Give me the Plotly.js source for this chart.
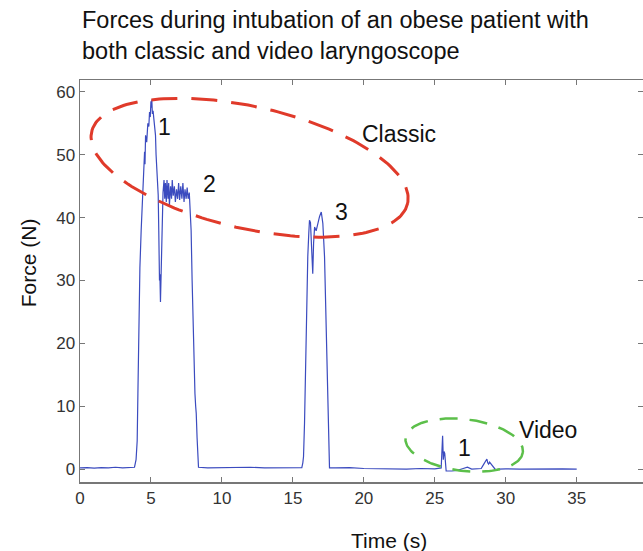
<!DOCTYPE html>
<html>
<head>
<meta charset="utf-8">
<script src="https://cdn.plot.ly/plotly-3.0.1.min.js"></script>
<style>html,body{margin:0;padding:0;background:#fff;}#chart{width:643px;height:551px;}</style>
</head>
<body>
<div id="chart"></div>
<script>
// ---- data ----
const timeS = [
  0, 0.5, 1, 1.5, 2, 2.5, 3, 3.5, 3.84,
  3.95, 4.0, 4.03, 4.08, 4.15, 4.22, 4.31, 4.4, 4.47, 4.5,
  4.55, 4.58, 4.62, 4.7, 4.78, 4.85, 4.9, 4.95, 5.0, 5.04,
  5.06, 5.1, 5.15, 5.2, 5.26, 5.32, 5.36, 5.41, 5.46, 5.51,
  5.55, 5.58, 5.6, 5.63, 5.67, 5.71, 5.75, 5.79, 5.85, 5.92,
  5.97, 6.02, 6.08, 6.13, 6.2, 6.25, 6.3, 6.38, 6.45, 6.5,
  6.57, 6.65, 6.72, 6.8, 6.88, 6.95, 7.02, 7.1, 7.18, 7.25,
  7.33, 7.4, 7.48, 7.55, 7.62, 7.7, 7.76, 7.83, 7.9, 8.0,
  8.1, 8.15, 8.19, 8.25, 8.3, 8.35,
  9, 10, 11, 12, 13, 14, 15, 15.63,
  15.7, 15.75, 15.82, 15.88, 15.94, 16.05, 16.12, 16.17, 16.24, 16.3,
  16.35, 16.4, 16.46, 16.53, 16.64, 16.76, 16.88, 17.0, 17.11, 17.23,
  17.32, 17.4, 17.5, 17.58,
  18, 19, 20, 21, 22, 23, 24, 25, 25.45,
  25.5, 25.55, 25.6, 25.65, 25.7, 25.75, 25.8, 26.2, 26.6, 27.0,
  27.3, 27.6, 28.0, 28.27, 28.4, 28.5, 28.6, 28.67, 28.73, 28.79,
  28.86, 28.93, 29.0, 29.09, 29.2, 29.28, 29.5, 30, 31, 32,
  33, 34, 35
];
const forceN = [
  0.2, 0.25, 0.15, 0.25, 0.2, 0.3, 0.2, 0.25, 0.3,
  1.5, 3.5, 4.5, 12, 24.8, 32, 38, 43, 45.2, 49,
  50.5, 48.5, 53.1, 52, 55, 54.5, 56.8, 56, 58.5, 57.5,
  58.8, 56.5, 57, 55.8, 54, 53.1, 50, 47.8, 45, 43.6,
  38, 32, 30, 31, 26.6, 31, 36, 40, 44, 46,
  43, 45.5, 42.5, 46, 43, 45.5, 42, 45, 43, 46,
  43.5, 45, 42.5, 44.5, 43, 45.5, 42.8, 45, 43, 45.5,
  42.5, 44.5, 43, 44.8, 43, 44, 42, 38, 30, 19.4,
  12, 10, 8.9, 5, 2, 0.3,
  0.2, 0.25, 0.2, 0.3, 0.2, 0.25, 0.2, 0.25,
  1, 2, 7.3, 15, 23.2, 33.8, 37.5, 39.6, 39.2, 35,
  32, 31.1, 36, 38.5, 37.9, 39.1, 40.2, 40.9, 39.1, 33.8,
  26, 17.9, 8, 0.2,
  0.2, 0.25, 0.1, 0.05, 0.1, 0, 0.1, 0.05, 0.2,
  3, 5.3, 1.5, 2.8, 2.5, 0.3, -0.3, -0.3, -0.2, 0.1,
  0.3, 0.0, 0.1, 0.1, 0.6, 0.9, 1.2, 1.6, 1.0, 0.8,
  1.1, 0.9, 0.6, 0.4, 0.1, -0.1, 0, 0.05, 0, 0.05,
  0, 0.05, 0
];
const xTicks = [0, 5, 10, 15, 20, 25, 30, 35];
const yTicks = [0, 10, 20, 30, 40, 50, 60];
const labelText = ['1', '2', '3', 'Classic', '1', 'Video'];
const labelX = [5.96, 9.13, 18.43, 22.5, 27.1, 33.0];
const labelY = [54.4, 45.3, 40.9, 53.3, 3.3, 6.2];
const titleLines = ['Forces during intubation of an obese patient with',
                    'both classic and video laryngoscope'];

// ---- highlight ellipses (screen-shaped, converted via axis scale) ----
const X_RANGE = [0, 39.67], Y_RANGE = [-2.05, 61.9];
const PLOT_W = 563, PLOT_H = 402;
const pxX = PLOT_W / (X_RANGE[1] - X_RANGE[0]);
const pxY = PLOT_H / (Y_RANGE[1] - Y_RANGE[0]);
function ellipse(cx, cy, aPx, bPx, degDown) {
  const th = degDown * Math.PI / 180, xs = [], ys = [];
  for (let i = 0; i <= 200; i++) {
    const t = 2 * Math.PI * i / 200;
    const ex = aPx * Math.cos(t), ey = bPx * Math.sin(t);
    const rx = ex * Math.cos(th) - ey * Math.sin(th);
    const ry = ex * Math.sin(th) + ey * Math.cos(th); // screen y down
    xs.push(cx + rx / pxX);
    ys.push(cy - ry / pxY);
  }
  return {x: xs, y: ys};
}
const redE = ellipse(11.95, 47.95, 162, 61, 12.8);
const greenE = ellipse(27.07, 3.82, 59.1, 25.9, 7);

const FONT = 'Liberation Sans, Arial, sans-serif';
const traces = [
  {x: timeS, y: forceN, type: 'scatter', mode: 'lines',
   line: {color: '#3b4bbf', width: 1.2}, hoverinfo: 'skip'},
  {x: redE.x, y: redE.y, type: 'scatter', mode: 'lines',
   line: {color: '#e03a2a', width: 3, dash: '26px,14px'}, hoverinfo: 'skip'},
  {x: greenE.x, y: greenE.y, type: 'scatter', mode: 'lines',
   line: {color: '#5cbf4a', width: 2.5, dash: '18px,12px'}, hoverinfo: 'skip'}
];

const annotations = labelText.map((t, i) => ({
  x: labelX[i], y: labelY[i], xref: 'x', yref: 'y', text: t, showarrow: false,
  font: {family: FONT, size: 23, color: '#111'}
}));
annotations.push({
  xref: 'paper', yref: 'paper', x: (389 - 80) / PLOT_W, y: -0.145, yanchor: 'middle',
  text: 'Time (s)', showarrow: false, font: {family: FONT, size: 21, color: '#111'}
});
annotations.push({
  xref: 'paper', yref: 'paper', x: -0.092, xanchor: 'center', y: (551 - 69 - 263) / PLOT_H,
  text: 'Force (N)', textangle: -90, showarrow: false, font: {family: FONT, size: 21, color: '#111'}
});
annotations.push({
  xref: 'paper', yref: 'paper', x: 0, xanchor: 'left', align: 'left',
  y: 1 + (80 - 5) / PLOT_H, yanchor: 'top',
  text: titleLines.join('<br>'), showarrow: false,
  font: {family: FONT, size: 23.5, color: '#111'}
});

const layout = {
  width: 643, height: 551,
  margin: {l: 80, r: 0, t: 80, b: 69},
  paper_bgcolor: '#fff', plot_bgcolor: '#fff',
  showlegend: false,
  xaxis: {
    range: X_RANGE, tickvals: xTicks, ticktext: xTicks.map(String),
    showline: true, linecolor: '#777', linewidth: 1.5, mirror: 'ticks',
    ticks: 'inside', ticklen: 5, tickcolor: '#777', showgrid: false, zeroline: false,
    tickfont: {family: FONT, size: 17, color: '#333'}
  },
  yaxis: {
    range: Y_RANGE, tickvals: yTicks, ticktext: yTicks.map(String),
    showline: true, linecolor: '#777', linewidth: 1.5, mirror: 'ticks',
    ticks: 'inside', ticklen: 5, tickcolor: '#777', showgrid: false, zeroline: false,
    tickfont: {family: FONT, size: 17, color: '#333'}
  },
  annotations: annotations
};

Plotly.newPlot('chart', traces, layout, {staticPlot: true, displayModeBar: false});
</script>
</body>
</html>
